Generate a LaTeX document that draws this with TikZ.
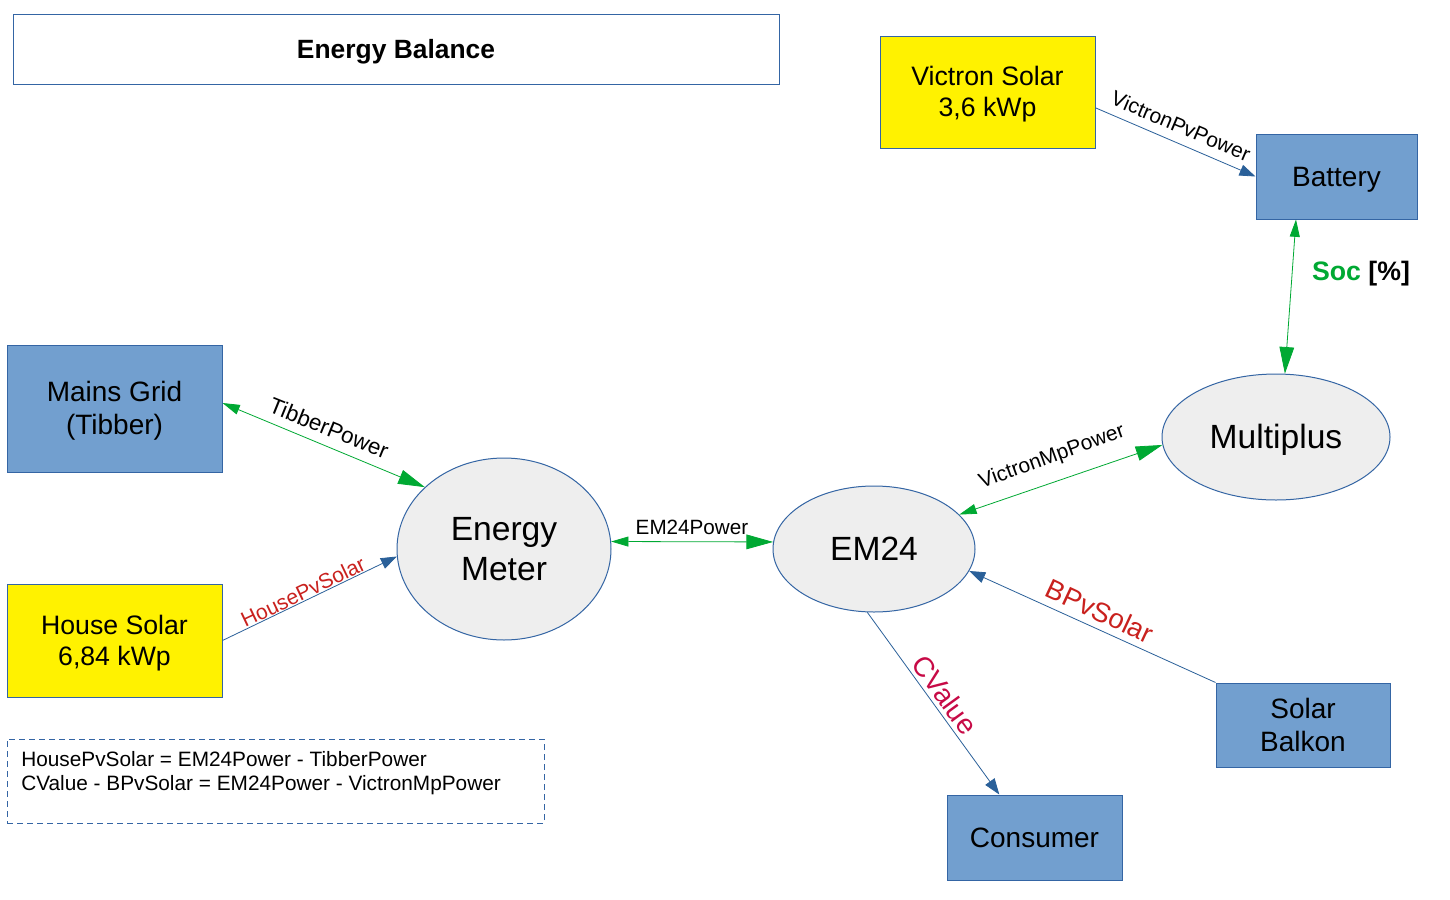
\documentclass[tikz,border=0pt]{standalone}
\usepackage{fontspec}
\setmainfont{Liberation Sans}
\usetikzlibrary{arrows.meta,shapes.geometric,calc}
\definecolor{bord}{HTML}{3465A4}
\definecolor{boxblue}{HTML}{729FCF}
\definecolor{ellfill}{HTML}{EEEEEE}
\definecolor{grn}{HTML}{00A933}
\definecolor{arrblue}{HTML}{2A6099}
\definecolor{lblred}{HTML}{C9211E}
\definecolor{cval}{RGB}{199,10,70}
\newcommand{\ls}{\rule[-0.212em]{0pt}{1.117em}}
\begin{document}
\begin{tikzpicture}[x=0.75pt,y=-0.75pt,
  bluebox/.style={draw=bord, line width=0.75pt, fill=boxblue, align=center, inner sep=0pt,
    font=\fontsize{21}{24.75}\selectfont},
  yellowbox/.style={bluebox, fill=yellow, font=\fontsize{20}{23.25}\selectfont},
  ell/.style={ellipse, draw=bord, line width=0.75pt, fill=ellfill, align=center, inner sep=0pt,
    font=\fontsize{25.2}{30}\selectfont},
  gline/.style={draw=grn, line width=0.6pt},
  bline/.style={draw=arrblue, line width=0.6pt},
  gtips/.style={arrows={Triangle[length=13pt,width=7.5pt]-Triangle[length=20pt,width=11pt]}},
  btip/.style={arrows={-Triangle[length=12pt,width=8.5pt]}},
  lbl/.style={inner sep=0pt, font=\fontsize{15.7}{18}\selectfont}
]
\useasboundingbox (0,0) rectangle (1450,900);
\fill[white] (0,0) rectangle (1450,900);

% title
\node[draw=bord, line width=0.75pt, minimum width=574.5pt, minimum height=52.5pt, inner sep=0pt,
  font=\bfseries\fontsize{19.8}{23}\selectfont] (title) at (396,49) {\ls Energy Balance};

% boxes
\node[yellowbox, minimum width=161.25pt, minimum height=84pt] (vs) at (987.5,92) {\ls Victron Solar\\\ls 3,6 kWp};
\node[bluebox, minimum width=120.75pt, minimum height=63.75pt] (bat) at (1336.5,176.5) {\ls Battery};
\node[bluebox, minimum width=161.25pt, minimum height=95.25pt] (mg) at (114.5,408.5) {\ls Mains Grid\\\ls (Tibber)};
\node[yellowbox, minimum width=161.25pt, minimum height=84.75pt] (hs) at (114.5,640.5) {\ls House Solar\\\ls 6,84 kWp};
\node[bluebox, minimum width=130.5pt, minimum height=63pt] (sb) at (1303,725) {\ls Solar\\\ls Balkon};
\node[bluebox, minimum width=131.25pt, minimum height=63.75pt] (con) at (1034.5,837.5) {\ls Consumer};

% ellipses
\node[ell, minimum width=160.5pt, minimum height=136.5pt] (em) at (504,549) {\ls Energy\\\ls Meter};
\node[ell, minimum width=151.5pt, minimum height=94.5pt] (e24) at (874,549) {\ls EM24};
\node[ell, minimum width=171pt, minimum height=94.5pt] (mp) at (1276,437) {\ls Multiplus};

% legend
\node[draw=bord, line width=0.75pt, dash pattern=on 4.5pt off 3pt, minimum width=402.75pt,
  minimum height=63pt, inner sep=0pt] (legend) at (275.5,781) {};
\node[anchor=west, align=left, inner sep=0pt, font=\fontsize{15.6}{18}\selectfont] (legendtext) at (21,773)
  {HousePvSolar = EM24Power - TibberPower\\CValue - BPvSolar = EM24Power - VictronMpPower};

% connectors
\draw[gline, gtips] ($(mg.north east)!0.457!(mg.south east)$) -- (em.142);
\draw[bline, btip] (hs.east) -- (em.184);
\draw[gline, gtips] (em.4) -- (e24.176);
\draw[gline, gtips] (e24.22) -- (mp.184);
\draw[gline, gtips] ($(bat.south west)!0.25!(bat.south east)$) -- (mp.82);
\draw[bline, btip] ($(vs.north east)!0.64!(vs.south east)$) -- (bat.west);
\draw[bline, btip] (sb.north west) -- (e24.-13);
\draw[bline, btip] (e24.264) -- ($(con.north west)!0.3!(con.north east)$);

% labels
\node[lbl, font=\fontsize{16.8}{18}\selectfont, rotate=-22] (ltibber) at (329,428) {TibberPower};
\node[lbl, text=lblred, font=\fontsize{15.8}{18}\selectfont, rotate=25.5] (lhouse) at (303,592) {HousePvSolar};
\node[lbl, font=\fontsize{15.5}{18}\selectfont] (lem24) at (692,527) {EM24Power};
\node[lbl, rotate=20] (lvmp) at (1052,457) {VictronMpPower};
\node[lbl, rotate=-23] (lvpv) at (1181,126) {VictronPvPower};
\node[lbl, text=lblred, font=\fontsize{20.6}{22}\selectfont, rotate=-25] (lbpv) at (1100,611) {BPvSolar};
\node[lbl, text=cval, font=\fontsize{21}{22}\selectfont, rotate=-54] (lcval) at (945,695) {CValue};
\node[inner sep=0pt, font=\bfseries\fontsize{20}{24}\selectfont] (soc) at (1361,274) {\textcolor{grn}{Soc} [\%]};
\end{tikzpicture}
\end{document}
